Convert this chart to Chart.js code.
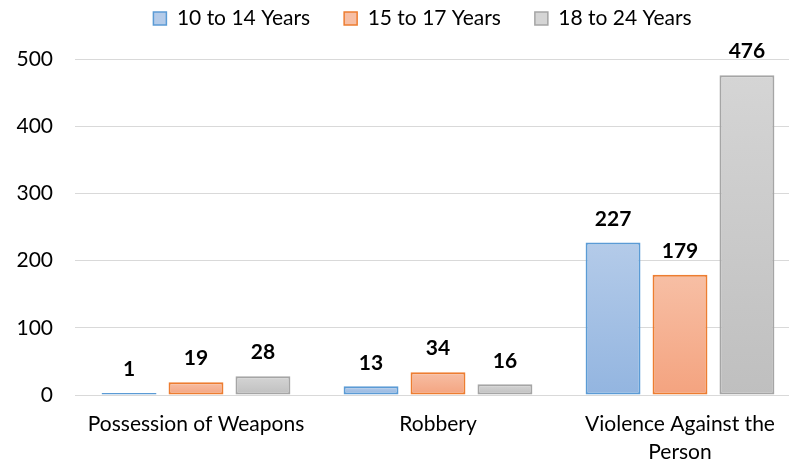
<!DOCTYPE html>
<html>
<head>
<meta charset="utf-8">
<script src="https://cdn.jsdelivr.net/npm/chart.js@4"></script>
<style>
  html, body { margin: 0; padding: 0; background: #fff; overflow: hidden; }
  #wrap { width: 812px; height: 462px; }
</style>
</head>
<body>
<div id="wrap"><canvas id="barChart"></canvas></div>
<script>
const categories = ['Possession of Weapons', 'Robbery', ['Violence Against the', 'Person']];
const seriesNames = ['10 to 14 Years', '15 to 17 Years', '18 to 24 Years'];
const age10to14 = [1, 13, 227];
const age15to17 = [19, 34, 179];
const age18to24 = [28, 16, 476];
const yTicks = [0, 100, 200, 300, 400, 500];

const FONT = 'Lato, "Open Sans", sans-serif';

// top / bottom colours of each bar gradient, plus border
const palette = [
  { top: '#b4cbe9', bottom: '#93b5e0', border: '#5b9bd5' },
  { top: '#f7bfa5', bottom: '#f4a37f', border: '#ed7d31' },
  { top: '#d5d5d5', bottom: '#bfbfbf', border: '#a5a5a5' }
];

function barGradient(pal) {
  return function(ctx) {
    const chart = ctx.chart;
    if (ctx.type !== 'data' || !chart.chartArea) return pal.bottom;
    const y = chart.scales.y;
    const top = y.getPixelForValue(ctx.parsed.y);
    const base = y.getPixelForValue(0);
    if (!isFinite(top) || top === base) return pal.bottom;
    const g = chart.ctx.createLinearGradient(0, top, 0, base);
    g.addColorStop(0, pal.top);
    g.addColorStop(1, pal.bottom);
    return g;
  };
}

// draw values above bars
const valueLabels = {
  id: 'valueLabels',
  afterDatasetsDraw(chart) {
    const ctx = chart.ctx;
    ctx.save();
    ctx.font = 'bold 21px ' + FONT;
    ctx.fillStyle = '#000';
    ctx.textAlign = 'center';
    ctx.textBaseline = 'bottom';
    chart.data.datasets.forEach((ds, i) => {
      chart.getDatasetMeta(i).data.forEach((bar, j) => {
        ctx.fillText(ds.data[j], bar.x, bar.y - 13);
      });
    });
    ctx.restore();
  }
};

// legend sits higher than chart.js puts it
const liftLegend = {
  id: 'liftLegend',
  afterLayout(chart) {
    chart.legend.top -= 26;
    chart.legend.bottom -= 26;
    chart.legend.left += 22;
    chart.legend.right += 22;
  }
};

const allSeries = [age10to14, age15to17, age18to24];

new Chart(document.getElementById('barChart'), {
  type: 'bar',
  data: {
    labels: categories,
    datasets: allSeries.map((d, i) => ({
      label: seriesNames[i],
      data: d,
      backgroundColor: barGradient(palette[i]),
      borderColor: palette[i].border,
      borderWidth: 2,
      borderSkipped: false,
      minBarLength: 2,
      categoryPercentage: 0.83,
      barPercentage: 0.82
    }))
  },
  options: {
    responsive: true,
    maintainAspectRatio: false,
    animation: false,
    layout: { padding: { left: 0, right: 11, top: 0, bottom: 0 } },
    plugins: {
      legend: {
        position: 'top',
        maxHeight: 59,
        labels: {
          font: { family: FONT, size: 21 },
          color: '#000',
          boxWidth: 13,
          boxHeight: 13,
          padding: 34,
          generateLabels(chart) {
            return chart.data.datasets.map((ds, i) => ({
              text: ds.label,
              fillStyle: palette[i].top,
              strokeStyle: palette[i].border,
              lineWidth: 1.5,
              datasetIndex: i
            }));
          }
        }
      },
      tooltip: { enabled: false }
    },
    scales: {
      x: {
        afterFit(scale) { scale.height = 67; },
        grid: { display: false, drawTicks: false },
        border: { display: false },
        ticks: {
          font: { family: FONT, size: 21, lineHeight: 1.3 },
          color: '#000',
          padding: 16,
          maxRotation: 0
        }
      },
      y: {
        min: 0,
        max: 500,
        afterBuildTicks(scale) { scale.ticks = yTicks.map(v => ({ value: v })); },
        afterFit(scale) { scale.width = 75; },
        grid: { color: '#d9d9d9', lineWidth: 1, drawTicks: false },
        border: { display: false },
        ticks: {
          font: { family: FONT, size: 21 },
          color: '#000',
          padding: 22
        }
      }
    }
  },
  plugins: [valueLabels, liftLegend]
});
</script>
</body>
</html>
